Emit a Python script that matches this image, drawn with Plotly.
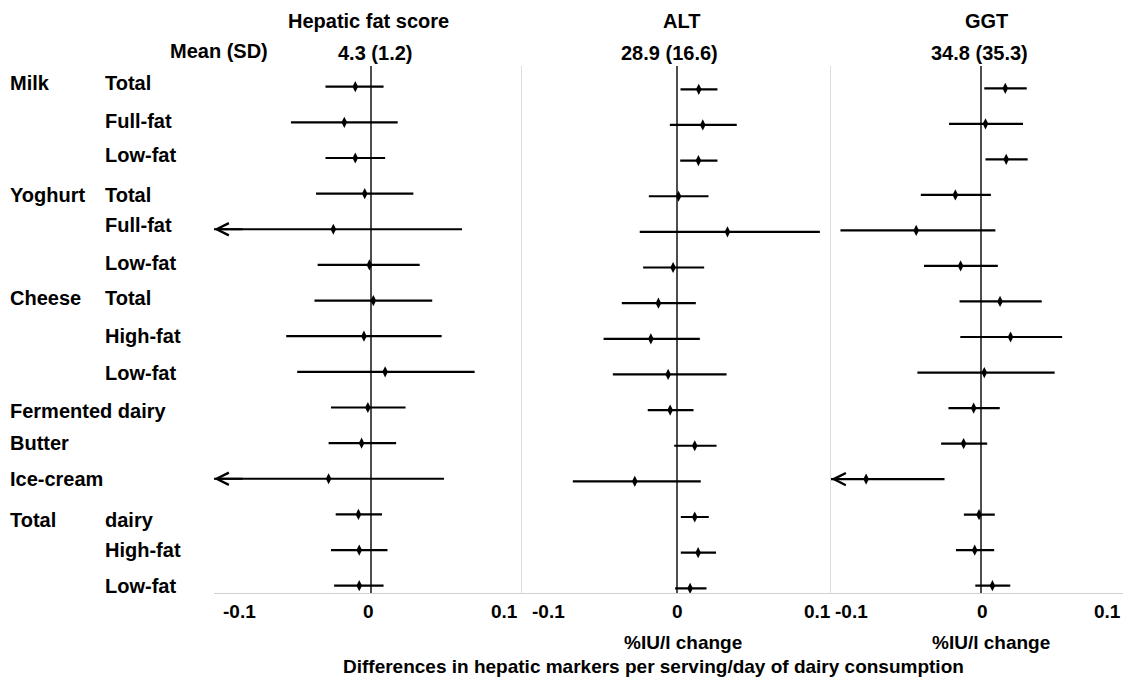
import plotly.graph_objects as go

# page body has an 8px default margin: the figure is drawn 8px right/down
OFF = 8
W, H = 1131 - OFF, 677 - OFF

# ---------------- data ----------------
GROUP_LABELS = ["Milk", "", "", "Yoghurt", "", "", "Cheese", "", "", "Fermented dairy",
                "Butter", "Ice-cream", "Total", "", ""]
SUB_LABELS = ["Total", "Full-fat", "Low-fat", "Total", "Full-fat", "Low-fat", "Total",
              "High-fat", "Low-fat", "", "", "", "dairy", "High-fat", "Low-fat"]

PANEL_TITLES = ["Hepatic fat score", "ALT", "GGT"]
MEAN_HEADER = "Mean (SD)"
PANEL_MEANS = ["4.3 (1.2)", "28.9 (16.6)", "34.8 (35.3)"]
UNIT_LABELS = ["", "%IU/l change", "%IU/l change"]
X_TITLE = "Differences in hepatic markers per serving/day of dairy consumption"
TICK_VALUES = [-0.1, 0, 0.1]
TICK_LABELS = ["-0.1", "0", "0.1"]

HFS_EST = [-0.010, -0.017, -0.010, -0.004, -0.024, -0.001, 0.0015, -0.0045, 0.009, -0.002,
           -0.006, -0.027, -0.008, -0.0075, -0.0075]
HFS_LO = [-0.029, -0.051, -0.029, -0.035, -0.130, -0.034, -0.036, -0.054, -0.047, -0.0255,
          -0.027, -0.130, -0.0225, -0.0255, -0.0235]
HFS_HI = [0.008, 0.017, 0.009, 0.027, 0.058, 0.031, 0.039, 0.045, 0.066, 0.022,
          0.016, 0.0465, 0.007, 0.0105, 0.008]

ALT_EST = [0.0144, 0.017, 0.0142, 0.0013, 0.033, -0.0022, -0.0117, -0.0166, -0.0054, -0.0041,
           0.0118, -0.027, 0.0118, 0.014, 0.0088]
ALT_LO = [0.0026, -0.0043, 0.0024, -0.0179, -0.0238, -0.0216, -0.0354, -0.0472, -0.0412, -0.0186,
          -0.0015, -0.0671, 0.0028, 0.0028, -0.0009]
ALT_HI = [0.0265, 0.039, 0.0265, 0.0207, 0.0928, 0.0179, 0.0125, 0.0151, 0.0324, 0.011,
          0.0259, 0.0157, 0.0209, 0.0256, 0.0194]

GGT_EST = [0.0162, 0.003, 0.0168, -0.0171, -0.0432, -0.0136, 0.0127, 0.0197, 0.0022, -0.0049,
           -0.0116, -0.0766, -0.0013, -0.0042, 0.0076]
GGT_LO = [0.0022, -0.0213, 0.003, -0.0401, -0.0937, -0.038, -0.0143, -0.0138, -0.0424, -0.0217,
          -0.0266, -0.130, -0.0114, -0.0167, -0.0038]
GGT_HI = [0.0305, 0.028, 0.0311, 0.0066, 0.0096, 0.0112, 0.0405, 0.0541, 0.0491, 0.0125,
          0.0041, -0.0243, 0.0092, 0.0088, 0.0195]

EST = [HFS_EST, ALT_EST, GGT_EST]
LO = [HFS_LO, ALT_LO, GGT_LO]
HI = [HFS_HI, ALT_HI, GGT_HI]

# ---------------- layout constants (page pixels) ----------------
XMIN, XMAX = -0.1, 0.1
X_DOM_PX = [(214, 528), (522, 831), (831, 1131)]
ROW_FIRST_PX = [86.7, 89.3, 88.3]
ROW_LAST_PX = [585.7, 588.3, 585.7]
PLOT_TOP_PX, PLOT_BOT_PX = 66, 592.5
TITLE_X_PX = [368.7, 681.5, 986]
MEAN_X_PX = [374.5, 669.2, 979.7]
UNIT_X_PX = [None, 682.8, 991.3]
TICK_SHIFTS = [(7, -3, -8), (8, 1, 2), (2, 1.5, -8)]
LABEL_YSHIFT = [4, 1, 2.5, -1.5, 4, 1.5, 3, 0, -1.5, -3.5, 0, 0, -5.5, 0.5, 0]
FONT = "Liberation Sans, Arial, sans-serif"


def px(xp):
    return (xp - OFF) / W


def py(yp):
    return 1 - (yp - OFF) / H


fig = go.Figure()
n = len(SUB_LABELS)
rows = list(range(n))
annotations = []

for p in range(3):
    xa = "x" if p == 0 else f"x{p+1}"
    ya = "y" if p == 0 else f"y{p+1}"
    lx, ly = [], []
    for r in rows:
        lo = max(LO[p][r], XMIN)
        lx += [lo, HI[p][r], None]
        ly += [r, r, None]
        if LO[p][r] < XMIN:
            annotations.append(dict(x=XMIN, y=r, xref=xa, yref=ya, ax=30, ay=0,
                                    showarrow=True, arrowhead=5, arrowsize=1.2,
                                    arrowwidth=2, arrowcolor="black", text=""))
    fig.add_trace(go.Scatter(x=lx, y=ly, mode="lines", xaxis=xa, yaxis=ya,
                             line=dict(color="black", width=2.2), hoverinfo="skip",
                             showlegend=False, cliponaxis=False))
    fig.add_trace(go.Scatter(x=EST[p], y=rows, mode="markers", xaxis=xa, yaxis=ya,
                             marker=dict(symbol="diamond-tall", size=8, color="black"),
                             showlegend=False, cliponaxis=False))

    d0, d1 = X_DOM_PX[p]
    step = (ROW_LAST_PX[p] - ROW_FIRST_PX[p]) / (n - 1)
    ytop = (PLOT_TOP_PX - ROW_FIRST_PX[p]) / step
    ybot = (PLOT_BOT_PX - ROW_FIRST_PX[p]) / step
    xkey = "xaxis" if p == 0 else f"xaxis{p+1}"
    ykey = "yaxis" if p == 0 else f"yaxis{p+1}"
    fig.update_layout(**{
        xkey: dict(domain=[px(d0), min(px(d1), 1)], range=[XMIN, XMAX], anchor=ya,
                   showgrid=False, showticklabels=False, ticks="",
                   zeroline=True, zerolinecolor="#4d4d4d", zerolinewidth=1.5,
                   showline=True, linecolor="#d0d0d0", linewidth=1.3, fixedrange=True),
        ykey: dict(domain=[py(PLOT_BOT_PX), py(PLOT_TOP_PX)], range=[ybot, ytop], anchor=xa,
                   showgrid=False, showticklabels=False, ticks="", zeroline=False,
                   showline=(p > 0), linecolor="#dcdcdc", linewidth=1.2, fixedrange=True),
    })

    # tick labels
    anchors = ["left", "center", "right"]
    for tv, tl, anc, sh in zip(TICK_VALUES, TICK_LABELS, anchors, TICK_SHIFTS[p]):
        annotations.append(dict(x=tv, y=py(611), xref=xa, yref="paper", text=f"<b>{tl}</b>",
                                showarrow=False, xanchor=anc, yanchor="middle", xshift=sh,
                                font=dict(size=19)))
    # titles
    annotations.append(dict(x=px(TITLE_X_PX[p]), y=py(21), xref="paper", yref="paper",
                            text=f"<b>{PANEL_TITLES[p]}</b>", showarrow=False,
                            xanchor="center", yanchor="middle", font=dict(size=20)))
    annotations.append(dict(x=px(MEAN_X_PX[p]), y=py(53), xref="paper", yref="paper",
                            text=f"<b>{PANEL_MEANS[p]}</b>", showarrow=False,
                            xanchor="center", yanchor="middle", font=dict(size=20)))
    if UNIT_LABELS[p]:
        annotations.append(dict(x=px(UNIT_X_PX[p]), y=py(642), xref="paper", yref="paper",
                                text=f"<b>{UNIT_LABELS[p]}</b>", showarrow=False,
                                xanchor="center", yanchor="middle", font=dict(size=19)))

annotations.append(dict(x=px(218.8), y=py(51), xref="paper", yref="paper",
                        text=f"<b>{MEAN_HEADER}</b>", showarrow=False,
                        xanchor="center", yanchor="middle", font=dict(size=20)))
annotations.append(dict(x=px(653), y=py(666.5), xref="paper", yref="paper",
                        text=f"<b>{X_TITLE}</b>", showarrow=False,
                        xanchor="center", yanchor="middle", font=dict(size=19)))

# row labels
for r in rows:
    if GROUP_LABELS[r]:
        annotations.append(dict(x=px(8), y=r, xref="paper", yref="y",
                                text=f"<b>{GROUP_LABELS[r]}</b>", showarrow=False,
                                xanchor="left", yanchor="middle", yshift=LABEL_YSHIFT[r],
                                font=dict(size=20)))
    if SUB_LABELS[r]:
        annotations.append(dict(x=px(103), y=r, xref="paper", yref="y",
                                text=f"<b>{SUB_LABELS[r]}</b>", showarrow=False,
                                xanchor="left", yanchor="middle", yshift=LABEL_YSHIFT[r],
                                font=dict(size=20)))

fig.update_layout(
    width=W, height=H, margin=dict(l=0, r=0, t=0, b=0),
    paper_bgcolor="white", plot_bgcolor="white",
    font=dict(family=FONT, color="black"),
    annotations=annotations, showlegend=False,
)

fig.write_html("out.html", config={"displayModeBar": False})
